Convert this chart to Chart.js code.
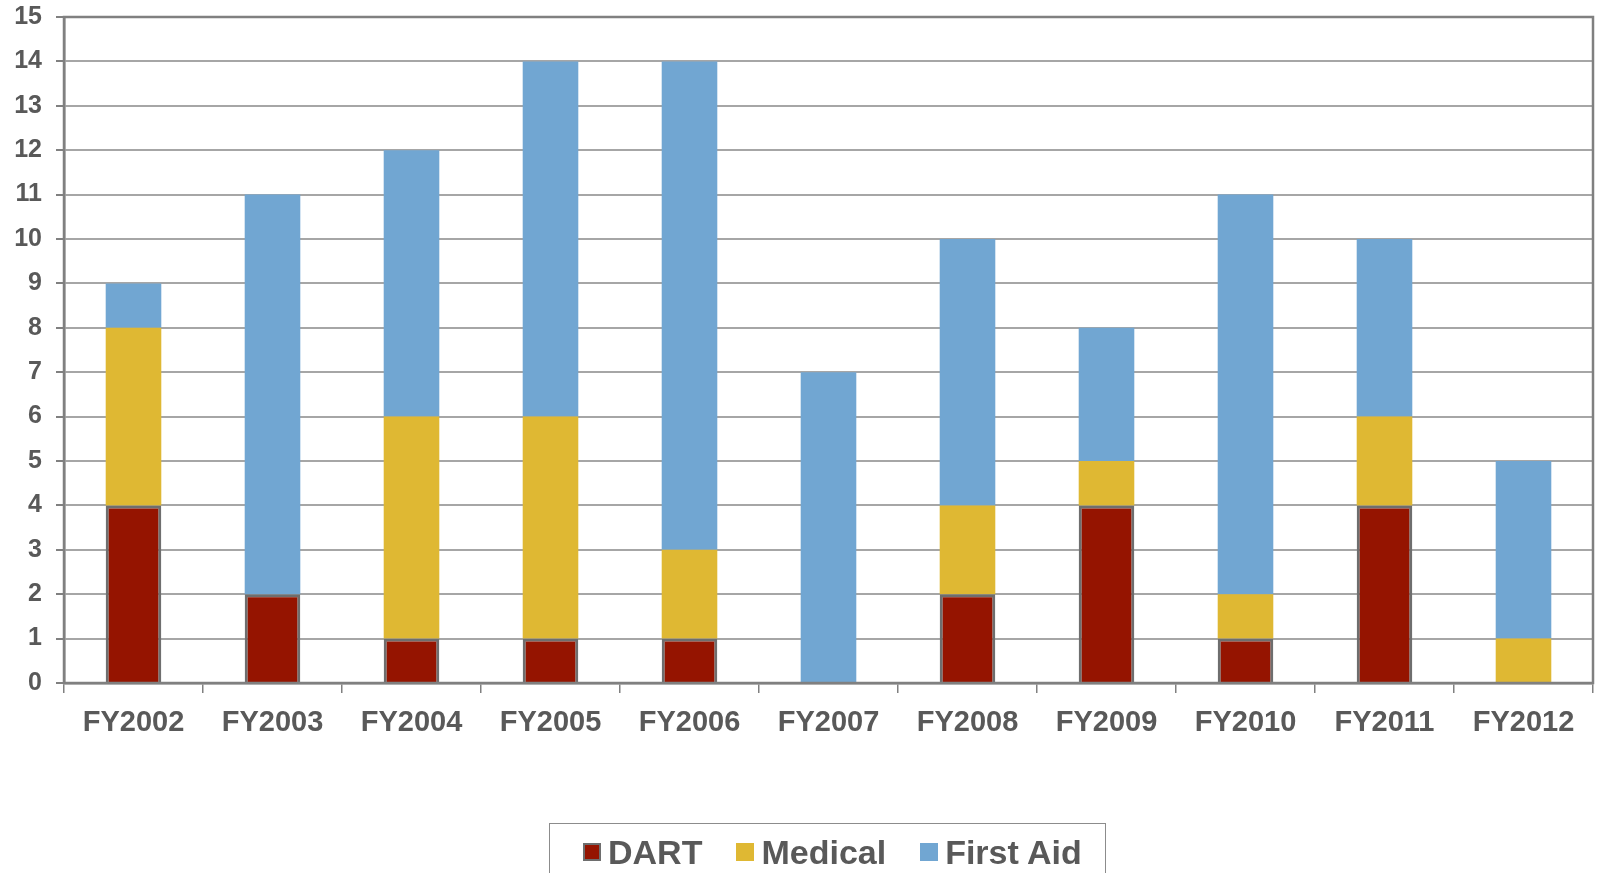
<!DOCTYPE html>
<html>
<head>
<meta charset="utf-8">
<script src="https://cdn.jsdelivr.net/npm/chart.js@4.4.1/dist/chart.umd.min.js"></script>
<style>
  html, body { margin: 0; padding: 0; background: #ffffff; overflow: hidden; }
  #wrap { width: 1598px; height: 873px; position: relative; overflow: hidden; }
  #legend {
    position: absolute; left: 549px; top: 823px;
    height: 70px; box-sizing: border-box;
    border: 1.5px solid #8c8c8c;
    padding: 8px 23px 0 33px;
    display: flex; align-items: flex-start;
    font-family: 'Liberation Sans', Arial, sans-serif;
    font-weight: bold; font-size: 34px; color: #595959;
  }
  .item { display: flex; align-items: center; height: 40px; }
  .item + .item { margin-left: 34px; }
  .sw { width: 18px; height: 18px; box-sizing: border-box; margin-right: 7px; }
</style>
</head>
<body>
<div id="wrap"><canvas id="c"></canvas><div id="legend"></div></div>
<script>
// Fiscal years on the category axis
const years = ['FY2002', 'FY2003', 'FY2004', 'FY2005', 'FY2006', 'FY2007',
               'FY2008', 'FY2009', 'FY2010', 'FY2011', 'FY2012'];

// Incident counts per year, stacked bottom to top
const dart     = [4, 2, 1, 1, 1, 0, 2, 4, 1, 4, 0];
const medical  = [4, 0, 5, 5, 2, 0, 2, 1, 1, 2, 1];
const firstAid = [1, 9, 6, 8, 11, 7, 6, 3, 9, 4, 4];

// Value axis range
const yMin = 0;
const yMax = 15;
const yStep = 1;

const TEXT = '#595959';
const AXIS = '#808080';
const GRID = '#a6a6a6';
const BAR_EDGE = '#6e6e6e';

// Frame around the plot area
const framePlugin = {
  id: 'frame',
  afterDatasetsDraw(chart) {
    const { ctx, chartArea: a } = chart;
    ctx.save();
    ctx.strokeStyle = AXIS;
    ctx.lineWidth = 2.5;
    ctx.strokeRect(a.left, a.top, a.right - a.left, a.bottom - a.top);
    ctx.restore();
  }
};

const chart = new Chart(document.getElementById('c'), {
  type: 'bar',
  data: {
    labels: years,
    datasets: [
      { label: 'DART', data: dart, backgroundColor: '#951400',
        borderColor: BAR_EDGE, borderWidth: { left: 3, right: 3, top: 3, bottom: 0 }, borderSkipped: 'bottom' },
      { label: 'Medical', data: medical, backgroundColor: '#dfb833', borderWidth: 0 },
      { label: 'First Aid', data: firstAid, backgroundColor: '#71a6d2', borderWidth: 0 }
    ]
  },
  options: {
    responsive: true,
    maintainAspectRatio: false,
    animation: false,
    layout: { padding: { top: 17, right: 5, left: 0, bottom: 0 } },
    datasets: { bar: { categoryPercentage: 1.0, barPercentage: 0.4 } },
    plugins: {
      tooltip: { enabled: false },
      legend: { display: false }
    },
    scales: {
      x: {
        stacked: true,
        border: { display: true, color: AXIS, width: 2.5 },
        grid: { display: true, drawOnChartArea: false, drawTicks: true, tickLength: 10, color: AXIS, lineWidth: 1.5, offset: true },
        ticks: { color: TEXT, font: { family: 'Liberation Sans', size: 29, weight: 'bold' }, padding: 13, maxRotation: 0 },
        afterFit(scale) { scale.height = 190; }
      },
      y: {
        stacked: true,
        min: yMin,
        max: yMax,
        border: { display: true, color: AXIS, width: 2.5 },
        grid: { color: GRID, lineWidth: 2, tickLength: 8, tickColor: AXIS, drawTicks: true },
        ticks: { stepSize: yStep, color: TEXT, font: { family: 'Liberation Sans', size: 25, weight: 'bold' }, padding: 14 },
        afterFit(scale) { scale.width = 64; scale.paddingTop = 0; scale.paddingBottom = 0; }
      }
    }
  },
  plugins: [framePlugin]
});

// Legend below the chart, built from the datasets
const legendEl = document.getElementById('legend');
chart.data.datasets.forEach((ds, i) => {
  const item = document.createElement('div');
  item.className = 'item';
  const sw = document.createElement('span');
  sw.className = 'sw';
  sw.style.background = ds.backgroundColor;
  if (i === 0) sw.style.border = '2px solid ' + BAR_EDGE;
  const label = document.createElement('span');
  label.textContent = ds.label;
  item.appendChild(sw);
  item.appendChild(label);
  legendEl.appendChild(item);
});
</script>
</body>
</html>
